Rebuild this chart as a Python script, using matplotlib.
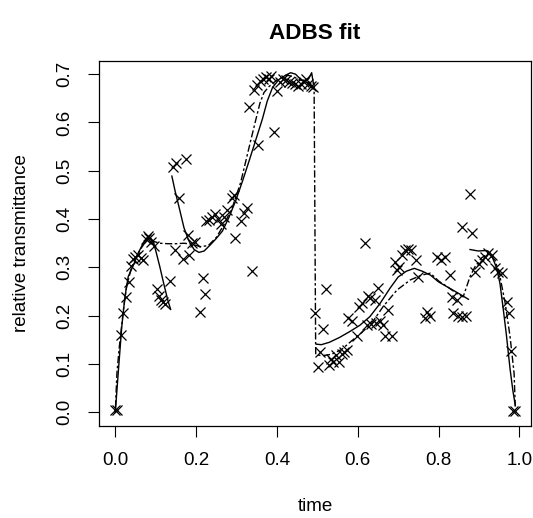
"""ADBS fit: observed transmittance (crosses), piecewise fit (solid)
and smooth reference fit (dash-dot)"""

import matplotlib
matplotlib.use("Agg")
import matplotlib.pyplot as plt

plt.rcParams['font.family'] = ['Liberation Sans', 'DejaVu Sans']

obs_time = [0.0, 0.005, 0.013, 0.02, 0.026, 0.033, 0.038, 0.045, 0.05, 0.057,
            0.063, 0.068, 0.075, 0.08, 0.084, 0.088, 0.095, 0.102, 0.108, 0.113,
            0.118, 0.124, 0.136,
            0.143, 0.15, 0.158, 0.176, 0.148, 0.168, 0.181, 0.183, 0.19, 0.197,
            0.21, 0.217, 0.222,
            0.225, 0.232, 0.24, 0.247, 0.255, 0.262, 0.27, 0.276, 0.288, 0.295,
            0.296, 0.312, 0.319, 0.326,
            0.331, 0.338, 0.343, 0.35, 0.354, 0.358, 0.365, 0.372, 0.38, 0.386,
            0.393, 0.4, 0.408, 0.415, 0.422, 0.43, 0.437, 0.445, 0.452, 0.46,
            0.466, 0.472, 0.478, 0.485, 0.49,
            0.494, 0.502, 0.507, 0.515, 0.521, 0.528, 0.534, 0.54, 0.546, 0.553,
            0.56, 0.566, 0.573, 0.577, 0.585, 0.597, 0.604, 0.61, 0.618, 0.622,
            0.625, 0.63, 0.634, 0.642, 0.645, 0.65, 0.655, 0.662, 0.668, 0.676,
            0.684, 0.692, 0.697, 0.701, 0.709, 0.717, 0.725, 0.733, 0.744, 0.75,
            0.767, 0.772, 0.779, 0.795, 0.807, 0.816, 0.828, 0.833, 0.845, 0.837,
            0.849, 0.857, 0.868, 0.857, 0.878, 0.882,
            0.89, 0.899, 0.907, 0.915, 0.923, 0.932, 0.94, 0.948, 0.956, 0.969,
            0.975, 0.979, 0.985, 0.99]
obs_trans = [0.004, 0.004, 0.16, 0.206, 0.238, 0.27, 0.303, 0.318, 0.322, 0.325,
             0.32, 0.316, 0.358, 0.365, 0.36, 0.352, 0.345, 0.255, 0.24, 0.232,
             0.228, 0.224, 0.272,
             0.508, 0.517, 0.444, 0.524, 0.336, 0.317, 0.368, 0.326, 0.35, 0.353,
             0.208, 0.278, 0.244,
             0.395, 0.398, 0.405, 0.41, 0.4, 0.39, 0.405, 0.418, 0.443, 0.45,
             0.36, 0.396, 0.412, 0.423,
             0.631, 0.293, 0.668, 0.678, 0.553, 0.686, 0.69, 0.695, 0.69, 0.697,
             0.58, 0.665, 0.684, 0.69, 0.688, 0.684, 0.682, 0.68, 0.676, 0.68,
             0.684, 0.69, 0.68, 0.676, 0.674,
             0.205, 0.094, 0.125, 0.172, 0.255, 0.098, 0.11, 0.104, 0.118, 0.105,
             0.12, 0.125, 0.128, 0.195, 0.19, 0.157, 0.219, 0.226, 0.351, 0.18,
             0.24, 0.236, 0.182, 0.233, 0.185, 0.257, 0.19, 0.18, 0.157, 0.212,
             0.157, 0.312, 0.295, 0.301, 0.326, 0.336, 0.339, 0.336, 0.315, 0.281,
             0.195, 0.208, 0.2, 0.322, 0.315, 0.322, 0.284, 0.238, 0.232, 0.205,
             0.2, 0.198, 0.2, 0.384, 0.452, 0.372,
             0.291, 0.308, 0.315, 0.322, 0.329, 0.326, 0.298, 0.291, 0.288, 0.229,
             0.205, 0.127, 0.002, 0.002]

# ADBS fit, drawn piece by piece
seg1_t = [0.0, 0.008, 0.016, 0.024, 0.032, 0.045, 0.057, 0.069, 0.078, 0.086,
          0.093, 0.1, 0.11, 0.12, 0.13, 0.137]
seg1_y = [0.0, 0.09, 0.177, 0.24, 0.281, 0.305, 0.33, 0.35, 0.358, 0.362,
          0.355, 0.335, 0.302, 0.266, 0.232, 0.213]
seg2_t = [0.14, 0.148, 0.158, 0.17, 0.182, 0.195, 0.207, 0.22, 0.232, 0.248,
          0.265, 0.281, 0.298, 0.315, 0.331, 0.347, 0.364, 0.376, 0.389, 0.405,
          0.422, 0.434, 0.446, 0.459, 0.467, 0.478, 0.486, 0.49]
seg2_y = [0.489, 0.458, 0.424, 0.382, 0.355, 0.337, 0.331, 0.334, 0.344, 0.358,
          0.375, 0.403, 0.438, 0.479, 0.52, 0.562, 0.607, 0.644, 0.672, 0.689,
          0.698, 0.703, 0.7, 0.689, 0.686, 0.69, 0.703, 0.682]
seg3_t = [0.4985, 0.51, 0.53, 0.555, 0.58, 0.605, 0.63, 0.655, 0.68, 0.7,
          0.72, 0.74, 0.76, 0.78, 0.8, 0.825, 0.85, 0.874]
seg3_y = [0.141, 0.14, 0.145, 0.155, 0.167, 0.18, 0.198, 0.225, 0.257, 0.28,
          0.292, 0.298, 0.292, 0.284, 0.27, 0.258, 0.246, 0.234]
seg4_t = [0.878, 0.898, 0.919, 0.931, 0.944, 0.952, 0.96, 0.968, 0.977, 0.984,
          0.99]
seg4_y = [0.337, 0.334, 0.335, 0.326, 0.298, 0.267, 0.215, 0.16, 0.09, 0.045,
          0.014]

# reference fit, one connected curve
ref_t = [0.0, 0.004, 0.01, 0.02, 0.028, 0.04, 0.061, 0.078, 0.094, 0.11,
         0.13, 0.15, 0.17, 0.19, 0.21, 0.23, 0.25, 0.27, 0.29, 0.31,
         0.323, 0.335, 0.347, 0.358, 0.368, 0.38, 0.4, 0.424, 0.44, 0.457,
         0.474, 0.492, 0.496, 0.511, 0.535, 0.56, 0.585, 0.61, 0.635, 0.663,
         0.697, 0.73, 0.758, 0.78, 0.8, 0.825, 0.845, 0.861, 0.878, 0.89,
         0.907, 0.923, 0.94, 0.952, 0.965, 0.977, 0.987, 0.99]
ref_y = [0.0, 0.081, 0.136, 0.212, 0.26, 0.3, 0.336, 0.357, 0.354, 0.35,
         0.349, 0.349, 0.35, 0.348, 0.343, 0.345, 0.362, 0.39, 0.425, 0.475,
         0.52, 0.562, 0.603, 0.64, 0.662, 0.674, 0.688, 0.698, 0.695, 0.688,
         0.684, 0.681, 0.12, 0.117, 0.12, 0.13, 0.148, 0.165, 0.185, 0.219,
         0.253, 0.274, 0.284, 0.288, 0.272, 0.258, 0.246, 0.239, 0.281, 0.301,
         0.32, 0.329, 0.315, 0.281, 0.226, 0.157, 0.081, 0.012]

x_ticks = [0.0, 0.2, 0.4, 0.6, 0.8, 1.0]
y_ticks = [0.0, 0.1, 0.2, 0.3, 0.4, 0.5, 0.6, 0.7]

fig = plt.figure(figsize=(5.33, 5.18), dpi=100)
ax = fig.add_axes([0.1863, 0.1782, 0.8105, 0.7041])

ax.plot(obs_time, obs_trans, linestyle='none', marker='x', markersize=7.5,
        markeredgewidth=0.9, color='black')
for t, y in [(seg1_t, seg1_y), (seg2_t, seg2_y), (seg3_t, seg3_y), (seg4_t, seg4_y)]:
    ax.plot(t, y, color='black', linewidth=1.0)
ax.plot(ref_t, ref_y, color='black', linewidth=1.0,
        linestyle=(0, (1.8, 1.8, 5.2, 1.8)))

ax.set_xlim(-0.0396, 1.0296)
ax.set_ylim(-0.0277, 0.7273)
ax.set_xticks(x_ticks)
ax.set_xticklabels(['%.1f' % v for v in x_ticks])
ax.set_yticks(y_ticks)
ax.set_yticklabels(['%.1f' % v for v in y_ticks], rotation=90, va='center')
ax.tick_params(direction='out', length=7.7, width=0.8, labelsize=13.5,
               pad=11)
for s in ax.spines.values():
    s.set_linewidth(0.9)

fig.text(0.591, 0.936, 'ADBS fit', ha='center', va='center',
         fontsize=16.2, fontweight='bold')
fig.text(0.591, 0.022, 'time', ha='center', va='center', fontsize=13.5)
fig.text(0.041, 0.530, 'relative transmittance', ha='center', va='center',
         rotation=90, fontsize=13.5)

fig.savefig('out.png', dpi=100)
